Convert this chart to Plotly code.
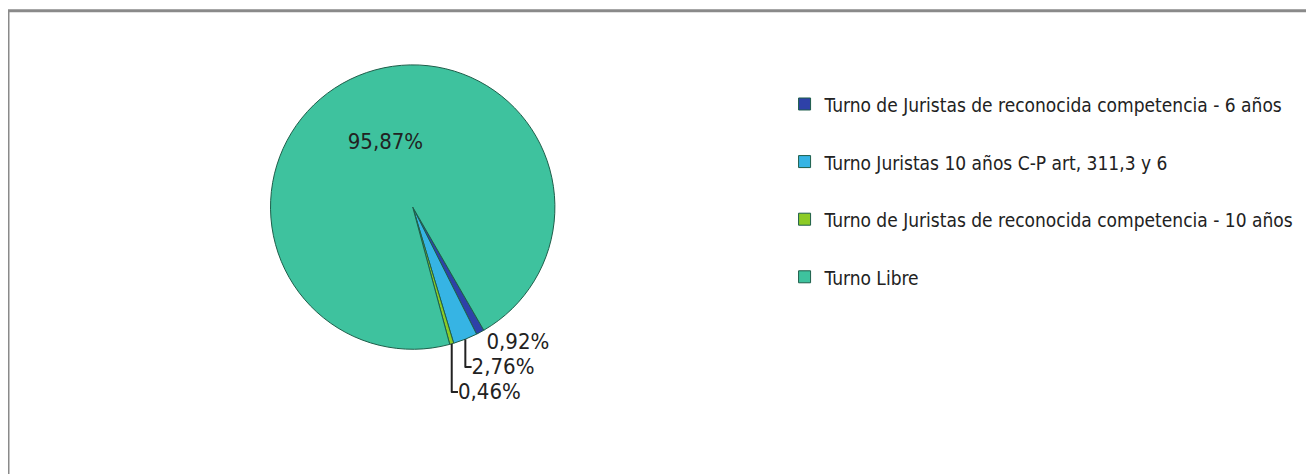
import plotly.graph_objects as go

categories = [
    "Turno de Juristas de reconocida competencia - 6 años",
    "Turno Juristas 10 años C-P art, 311,3 y 6",
    "Turno de Juristas de reconocida competencia - 10 años",
    "Turno Libre",
]
values = [0.92, 2.76, 0.46, 95.87]
value_labels = ["0,92%", "2,76%", "0,46%", "95,87%"]
colors = ["#2E41A8", "#36B4E4", "#8CCB26", "#3EC29E"]

legend_labels = ["<span style='font-size:19px'>" + c + "</span><br> " for c in categories]
FONT = "DejaVu Sans Condensed, Liberation Sans Narrow, Liberation Sans, sans-serif"

fig = go.Figure(
    go.Pie(
        labels=legend_labels,
        values=values,
        text=value_labels,
        textinfo="text",
        textposition=["outside", "outside", "outside", "inside"],
        insidetextorientation="horizontal",
        sort=False,
        direction="clockwise",
        rotation=150,
        marker=dict(colors=colors, line=dict(color="#1E5E4A", width=1)),
        textfont=dict(family=FONT, size=22, color="#222222"),
        hovertext=categories,
        hoverinfo="text+percent",
        domain=dict(x=[0.0, 0.616], y=[0.28, 0.88]),
    )
)

fig.update_layout(
    width=1314,
    height=474,
    margin=dict(l=0, r=0, t=0, b=0, autoexpand=False),
    paper_bgcolor="white",
    plot_bgcolor="white",
    showlegend=True,
    legend=dict(
        x=0.591,
        y=0.84,
        xanchor="left",
        yanchor="top",
        valign="top",
        font=dict(family=FONT, size=21, color="#222222"),
        itemwidth=30,
        bgcolor="rgba(0,0,0,0)",
    ),
    shapes=[
        dict(type="line", xref="paper", yref="paper", x0=0.0, x1=1.01, y0=0.994, y1=0.994,
             line=dict(color="#8A8A8A", width=3)),
        dict(type="line", xref="paper", yref="paper", x0=0.0, x1=0.0, y0=-0.02, y1=0.994,
             line=dict(color="#8A8A8A", width=3)),
    ],
)

fig.write_html("out.html")
